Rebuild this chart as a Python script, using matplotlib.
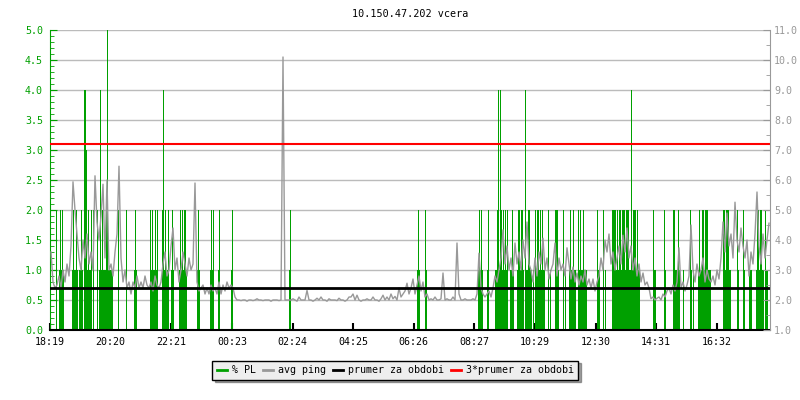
"""
Graf ztratovosti paketu a prumerneho pingu pro 10.150.47.202 (vcera).
"""

import matplotlib

matplotlib.use("Agg")
import matplotlib.pyplot as plt
from matplotlib.lines import Line2D
from matplotlib.ticker import MultipleLocator, FormatStrFormatter

plt.rcParams["font.family"] = ["DejaVu Sans Mono"]

# --- data -------------------------------------------------------------
titulek = "10.150.47.202 vcera"

# casove popisky osy x (start grafu = 18:19)
popisky_x = ["18:19", "20:20", "22:21", "00:23", "02:24", "04:25",
             "06:26", "08:27", "10:29", "12:30", "14:31", "16:32"]

# prumerny ping [ms], vzorek po 4 minutach od 18:19
ping_ms = [
    3.6, 2.6, 2.4, 2.5, 2.8, 2.4, 3.0, 2.6, 3.2, 2.8, 3.8, 5.94, 5.0, 4.2, 3.4,
    3.0, 4.0, 3.4, 4.2, 3.2, 3.6, 3.0, 6.14, 4.6, 4.0, 4.8, 5.86, 3.4, 6.0, 3.0,
    3.2, 2.8, 3.6, 4.2, 6.46, 3.4, 2.6, 3.0, 2.4, 2.6, 2.2, 2.6, 2.4, 2.8, 2.4,
    2.6, 2.4, 2.8, 2.5, 2.4, 2.6, 2.3, 2.8, 2.5, 2.4, 2.6, 3.2, 3.6, 2.8, 3.0,
    3.8, 4.4, 3.0, 3.4, 2.6, 3.0, 3.6, 3.2, 2.8, 3.4, 3.0, 3.2, 5.9, 2.6, 2.3,
    2.4, 2.5, 2.2, 2.4, 2.2, 2.5, 2.3, 2.4, 2.2, 2.6, 2.2, 2.5, 2.3, 2.6, 2.4,
    2.5, 2.4, 2.1, 2.0, 2.0, 1.98, 2.0, 2.0, 1.96, 2.0, 2.0, 1.98, 2.0, 2.04, 2.0,
    2.0, 1.98, 2.0, 2.0, 2.0, 1.96, 2.0, 2.0, 2.0, 1.98, 2.0, 10.1, 2.0, 2.0, 2.0,
    2.0, 2.04, 2.0, 1.96, 2.1, 2.0, 2.0, 2.0, 2.32, 2.0, 2.0, 1.96, 2.0, 2.06, 2.0,
    2.1, 2.0, 2.0, 1.96, 2.04, 2.0, 2.0, 2.0, 1.98, 2.06, 2.0, 2.0, 1.96, 2.0, 2.1,
    2.1, 2.2, 2.0, 2.16, 2.0, 1.96, 2.0, 2.0, 2.04, 2.0, 2.0, 2.1, 2.0, 2.0, 1.96,
    2.04, 2.16, 2.0, 2.1, 2.0, 2.2, 2.04, 2.12, 2.0, 2.4, 2.1, 2.2, 2.3, 2.56, 2.2,
    2.4, 2.7, 2.2, 2.5, 2.8, 2.3, 2.6, 2.1, 2.2, 2.0, 2.04, 2.0, 2.1, 2.0, 2.0,
    2.04, 2.9, 2.0, 2.04, 2.0, 2.0, 2.1, 2.0, 3.9, 2.2, 2.0, 2.0, 2.04, 2.0, 2.0,
    2.0, 2.04, 2.0, 2.2, 3.56, 2.4, 2.2, 2.1, 2.2, 2.3, 2.1, 2.4, 2.8, 2.6, 3.0,
    3.4, 4.34, 3.2, 3.8, 3.0, 3.4, 2.8, 3.9, 3.2, 3.6, 3.0, 4.0, 3.4, 4.6, 3.2,
    3.0, 2.6, 3.4, 2.8, 3.6, 3.2, 4.06, 3.0, 3.4, 2.7, 3.0, 3.2, 3.9, 2.8, 3.4,
    3.0, 3.2, 2.8, 3.74, 3.2, 2.7, 3.1, 2.6, 2.9, 2.5, 2.8, 2.6, 3.0, 2.5, 2.7,
    2.4, 2.7, 2.3, 2.6, 2.8, 3.4, 3.0, 4.0, 3.6, 4.2, 3.2, 3.6, 3.0, 3.4, 3.8,
    3.2, 4.16, 3.6, 4.4, 3.4, 3.8, 3.0, 3.4, 2.8, 3.2, 2.6, 2.9, 2.5, 2.6, 2.4,
    2.04, 2.1, 2.0, 2.06, 2.1, 2.0, 2.2, 2.1, 2.3, 2.4, 2.2, 2.5, 2.3, 2.6, 3.74,
    2.4, 2.6, 2.3, 2.5, 2.8, 4.5, 3.0, 2.6, 3.2, 2.8, 3.0, 3.4, 2.6, 3.0, 2.7,
    2.6, 2.8, 2.5, 3.0, 2.7, 3.4, 4.6, 3.6, 4.9, 3.8, 4.2, 3.4, 5.26, 4.0, 3.6,
    4.4, 3.8, 3.4, 4.0, 2.8, 3.6, 3.2, 4.2, 5.6, 3.8, 3.2, 4.2, 3.4, 4.0, 4.56,
]
krok_ping = 4  # minut mezi vzorky

# ztratovost paketu: casy [min od 18:19] podle hodnoty PL [%]
pl_1 = [
    18, 22, 26, 44, 48, 50, 54, 58, 60, 64, 74, 78, 80, 98, 102, 106, 108, 110,
    116, 118, 120, 122, 124, 168, 172, 202, 206, 208, 212, 228, 232, 234, 242,
    246, 258, 262, 266, 272, 294, 298, 320, 324, 336, 362, 478,
    734, 738, 752, 856, 860, 864, 874, 890, 892, 898, 904, 908, 912, 920, 922,
    926, 934, 940, 946, 952, 954, 960,
    962, 966, 972, 978, 982, 986, 988, 1000, 1016, 1030, 1038, 1042, 1044, 1048,
    1050, 1058, 1062, 1064, 1068, 1070, 1072, 1096, 1098, 1110,
    1132, 1136, 1142, 1150, 1158, 1160, 1164, 1172, 1176, 1178,
    1208, 1210, 1230, 1250, 1252, 1254, 1258, 1266, 1282, 1286, 1296, 1300,
    1302, 1308, 1316, 1318, 1320, 1350, 1358, 1360, 1376, 1388, 1398, 1400,
    1402, 1412, 1418, 1424, 1426, 1432, 1434,
]
pl_2 = [
    12, 20, 24, 46, 52, 62, 76, 82, 86, 94, 104, 112, 136, 152, 170, 200, 204,
    210, 214, 224, 230, 236, 244, 260, 264, 268, 270, 296, 322, 326, 338, 364,
    480, 736, 750, 858, 862, 876, 894, 902, 906, 910, 914, 924, 936, 938, 942,
    944, 956, 958, 970, 974, 976, 980, 984, 996, 1010, 1012, 1014, 1026, 1040,
    1046, 1056, 1060, 1066, 1094, 1106, 1124, 1126, 1128, 1130, 1134, 1138,
    1140, 1144, 1146, 1148, 1152, 1154, 1156, 1166, 1168, 1170, 1174, 1206,
    1228, 1246, 1248, 1256, 1280, 1298, 1304, 1306, 1310, 1312, 1314, 1346,
    1348, 1352, 1354, 1356, 1374, 1386, 1414, 1416, 1420, 1422, 1430,
]
pl_3 = [72]
pl_4 = [68, 70, 100, 226, 896, 900, 950, 1162]
pl_5 = [114]

prumer_ping = 2.4          # prumer za obdobi
trojnasobek = 3 * prumer_ping

# --- barvy -------------------------------------------------------------
ZELENA = "#00a000"
SEDA = "#999999"
MRIZKA = "#bbbbbb"


def minuty(cas, start="18:19"):
    """Prevede HH:MM na minuty od zacatku grafu."""
    h, m = map(int, cas.split(":"))
    h0, m0 = map(int, start.split(":"))
    return ((h * 60 + m) - (h0 * 60 + m0)) % 1440


def vykresli():
    fig = plt.figure(figsize=(8, 4), dpi=100)
    ax = fig.add_axes([0.0625, 0.175, 0.9, 0.75])
    ax2 = ax.twinx()

    # ztratovost paketu (sloupce)
    for hodnota, casy in ((1, pl_1), (2, pl_2), (3, pl_3), (4, pl_4), (5, pl_5)):
        ax.bar(casy, [hodnota] * len(casy), width=2, align="edge",
               color=ZELENA, linewidth=0, antialiased=False, zorder=2)
    ax.set_xlim(0, 1440)
    ax.set_ylim(0, 5)
    ax.yaxis.set_major_locator(MultipleLocator(0.5))
    ax.yaxis.set_minor_locator(MultipleLocator(0.1))
    ax.yaxis.set_major_formatter(FormatStrFormatter("%.1f"))
    ax.grid(axis="y", color=MRIZKA, linewidth=1, zorder=0)
    ax.set_axisbelow(True)

    ax.set_xticks([minuty(p) for p in popisky_x])
    ax.set_xticklabels(popisky_x)

    # ping (prava osa)
    ping_cas = [krok_ping * i + krok_ping / 2 for i in range(len(ping_ms))]
    ax2.plot(ping_cas, ping_ms, color=SEDA, linewidth=1)
    ax2.axhline(prumer_ping, color="black", linewidth=2)
    ax2.axhline(trojnasobek, color="red", linewidth=1.5)
    ax2.set_ylim(1, 11)
    ax2.yaxis.set_major_locator(MultipleLocator(1.0))
    ax2.yaxis.set_minor_locator(MultipleLocator(0.5))
    ax2.yaxis.set_major_formatter(FormatStrFormatter("%.1f"))

    # osy a popisky
    for osa in (ax, ax2):
        osa.spines["top"].set_visible(False)
    ax.spines["left"].set_color(ZELENA)
    ax.spines["right"].set_visible(False)
    ax.spines["bottom"].set_color("black")
    ax.spines["bottom"].set_linewidth(1.5)
    ax2.spines["left"].set_visible(False)
    ax2.spines["bottom"].set_visible(False)
    ax2.spines["right"].set_color(SEDA)

    ax.tick_params(axis="y", which="both", direction="in", colors=ZELENA,
                   labelsize=7.2, pad=5)
    ax.tick_params(axis="y", which="major", length=5)
    ax.tick_params(axis="y", which="minor", length=3)
    ax.tick_params(axis="x", direction="in", length=5, width=1.5,
                   labelsize=7.2, colors="black", pad=5)
    ax2.tick_params(axis="y", which="both", direction="in", colors=SEDA,
                    labelsize=7.2, pad=3)
    ax2.tick_params(axis="y", which="major", length=5)
    ax2.tick_params(axis="y", which="minor", length=3)

    fig.text(0.5125, 0.965, titulek, ha="center", va="center", fontsize=7.3)

    # legenda
    handles = [
        Line2D([], [], color=ZELENA, linewidth=2),
        Line2D([], [], color=SEDA, linewidth=2),
        Line2D([], [], color="black", linewidth=2),
        Line2D([], [], color="red", linewidth=2),
    ]
    labels = ["% PL", "avg ping", "prumer za obdobi", "3*prumer za obdobi"]
    leg = fig.legend(handles, labels, loc="center", bbox_to_anchor=(0.494, 0.075),
                     ncol=4, fontsize=7.2, frameon=True, fancybox=False,
                     shadow=True, edgecolor="black", facecolor="#eeeeee",
                     framealpha=1, handlelength=1.0, handletextpad=0.5,
                     columnspacing=0.7, borderpad=0.45)
    leg.get_frame().set_linewidth(1)

    fig.savefig("out.png", dpi=100)
    plt.close(fig)


if __name__ == "__main__":
    vykresli()
